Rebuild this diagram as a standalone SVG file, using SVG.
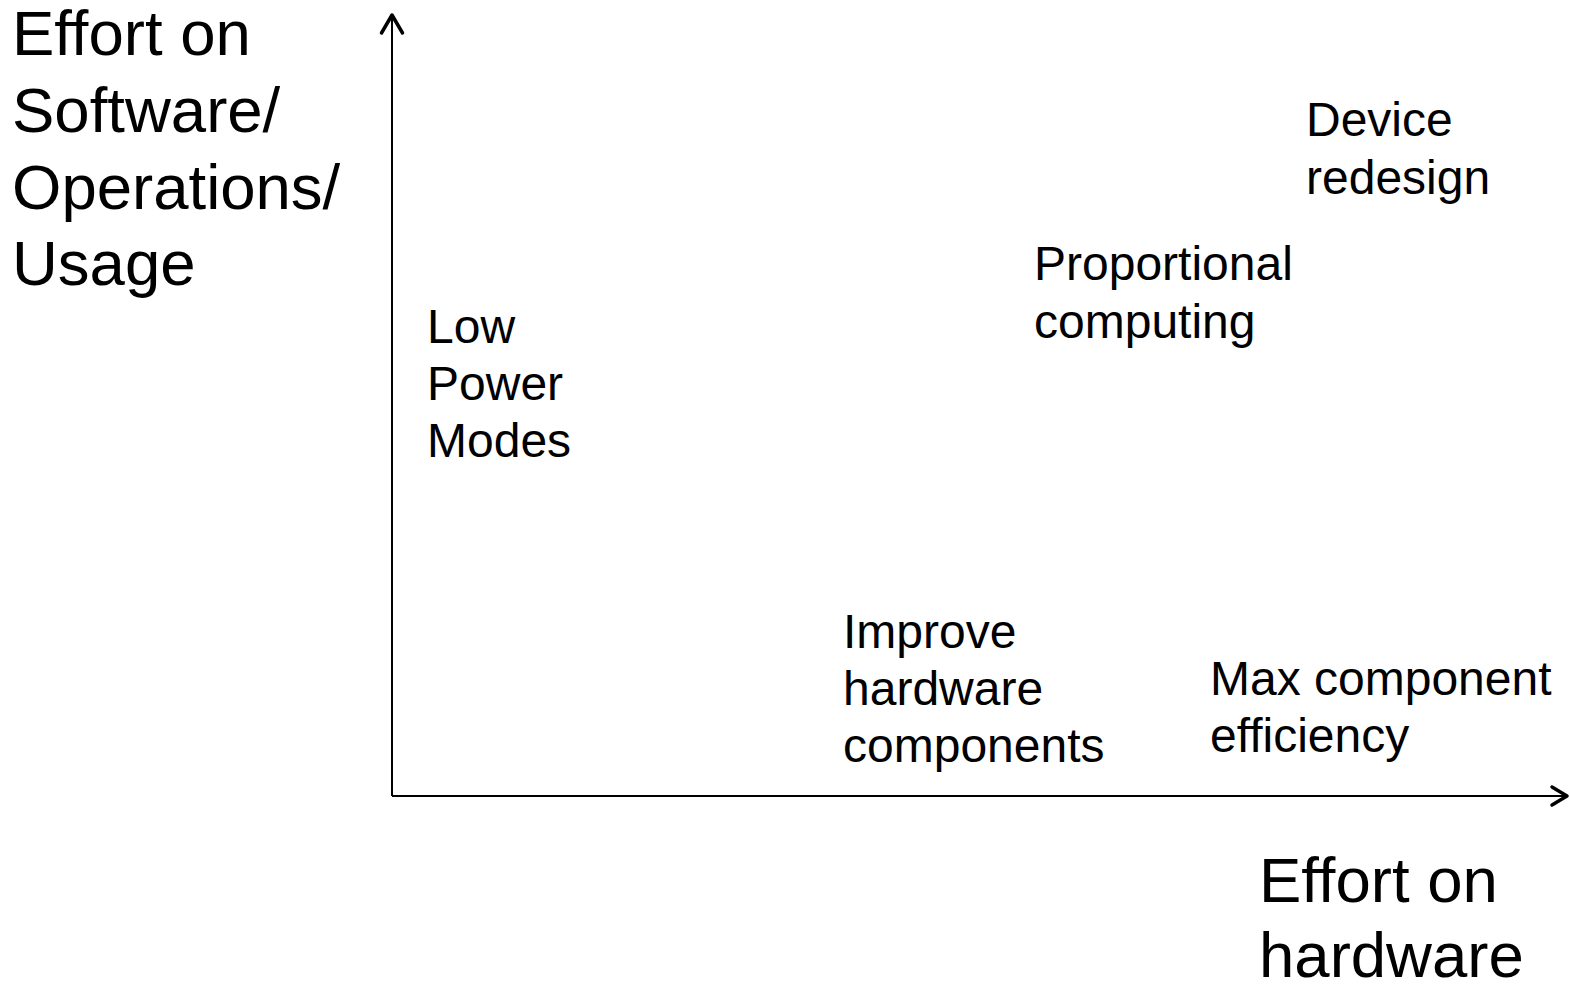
<svg xmlns="http://www.w3.org/2000/svg" width="1570" height="984" viewBox="0 0 1570 984">
<style>
text{font-family:"Liberation Sans",Arial,sans-serif;fill:#000}
.big{font-size:63.5px}
.mid{font-size:48px}
.axis{stroke:#000;stroke-width:2;fill:none}
.head{stroke:#000;stroke-width:3.5;fill:none;stroke-linecap:round;stroke-linejoin:round}
</style>
<rect width="1570" height="984" fill="#fff"/>
<g id="connectors">
<line class="axis" x1="392" y1="796" x2="392" y2="16"/>
<polyline class="head" points="381.5,33 392,15 402.5,33"/>
<line class="axis" x1="392" y1="796" x2="1566" y2="796"/>
<polyline class="head" points="1552,787 1567,796 1552,805"/>
</g>
<g id="y-label"><text class="big" x="12" y="55">Effort on</text><text class="big" x="12" y="132">Software/</text><text class="big" x="12" y="209">Operations/</text><text class="big" x="12" y="285">Usage</text></g>
<g id="x-label"><text class="big" x="1259" y="902">Effort on</text><text class="big" x="1259" y="977">hardware</text></g>
<g id="device-redesign"><text class="mid" x="1306" y="136">Device</text><text class="mid" x="1306" y="194">redesign</text></g>
<g id="proportional-computing"><text class="mid" x="1034" y="280">Proportional</text><text class="mid" x="1034" y="338">computing</text></g>
<g id="low-power-modes"><text class="mid" x="427" y="343">Low</text><text class="mid" x="427" y="400">Power</text><text class="mid" x="427" y="457">Modes</text></g>
<g id="improve-hardware"><text class="mid" x="843" y="648">Improve</text><text class="mid" x="843" y="705">hardware</text><text class="mid" x="843" y="762">components</text></g>
<g id="max-component"><text class="mid" x="1210" y="695">Max component</text><text class="mid" x="1210" y="752">efficiency</text></g>
</svg>
